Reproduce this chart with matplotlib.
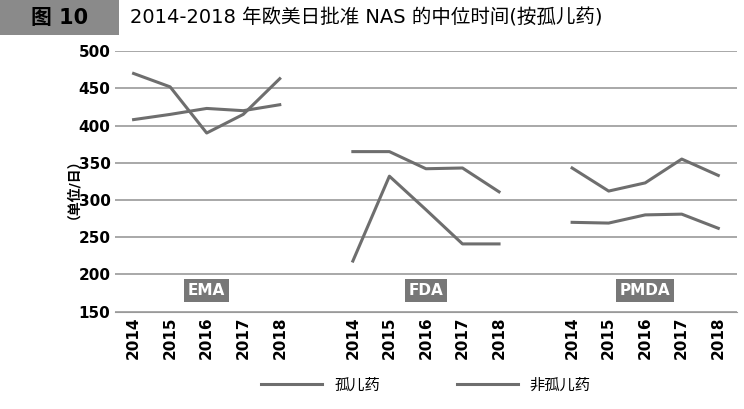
import matplotlib
matplotlib.use("Agg")
import matplotlib.pyplot as plt

years = ["2014", "2015", "2016", "2017", "2018"]
agencies = ["EMA", "FDA", "PMDA"]
orphan = [[470, 452, 390, 415, 463], [218, 332, 287, 241, 241], [343, 312, 323, 355, 333]]
non_orphan = [[408, 415, 423, 420, 428], [365, 365, 342, 343, 311], [270, 269, 280, 281, 262]]
yticks = [150, 200, 250, 300, 350, 400, 450, 500]

plt.rcParams["font.family"] = ["DejaVu Sans", "Noto Sans CJK JP", "Noto Sans CJK SC"]
fig = plt.figure(figsize=(7.44, 4.09), dpi=100)
ax = fig.add_axes([0.155, 0.238, 0.835, 0.637])
gray = "#6e6e6e"
xt, xl = [], []
for g in range(3):
    xs = [g * 6 + i for i in range(5)]
    ax.plot(xs, orphan[g], color=gray, lw=2.2, label="孤儿药" if g == 0 else None)
    ax.plot(xs, non_orphan[g], color=gray, lw=2.2, label="非孤儿药" if g == 0 else None)
    xt += xs; xl += years
    ax.text(xs[2], 178, agencies[g], ha="center", va="center", color="white",
            fontsize=11, fontweight="bold",
            bbox=dict(boxstyle="square,pad=0.25", fc="#777777", ec="none"))
ax.set_xlim(-0.5, 16.5)
ax.set_ylim(150, 500)
ax.set_yticks(yticks)
ax.set_xticks(xt)
ax.set_xticklabels(xl, rotation=90, fontsize=11, fontweight="bold")
ax.tick_params(axis="y", labelsize=11, length=0)
for l in ax.get_yticklabels():
    l.set_fontweight("bold")
ax.tick_params(axis="x", length=0)
ax.grid(axis="y", color="#9a9a9a", lw=1.2)
for s in ["top", "right", "left"]:
    ax.spines[s].set_visible(False)
ax.spines["bottom"].set_color("#9a9a9a")
ax.set_ylabel("（单位/日）", fontsize=10, fontweight="bold")
ax.legend(loc="upper center", bbox_to_anchor=(0.5, -0.2), ncol=2, frameon=False,
          fontsize=11, handlelength=4, columnspacing=5)

fig.patches.append(plt.Rectangle((0, 0.915), 0.16, 0.085, transform=fig.transFigure,
                                 fc="#8a8a8a", ec="none"))
fig.text(0.08, 0.957, "图 10", ha="center", va="center", fontsize=15, fontweight="bold", color="black")
fig.text(0.175, 0.957, "2014-2018 年欧美日批准 NAS 的中位时间(按孤儿药)", ha="left", va="center",
         fontsize=14, color="black")
fig.savefig("out.png", dpi=100)
